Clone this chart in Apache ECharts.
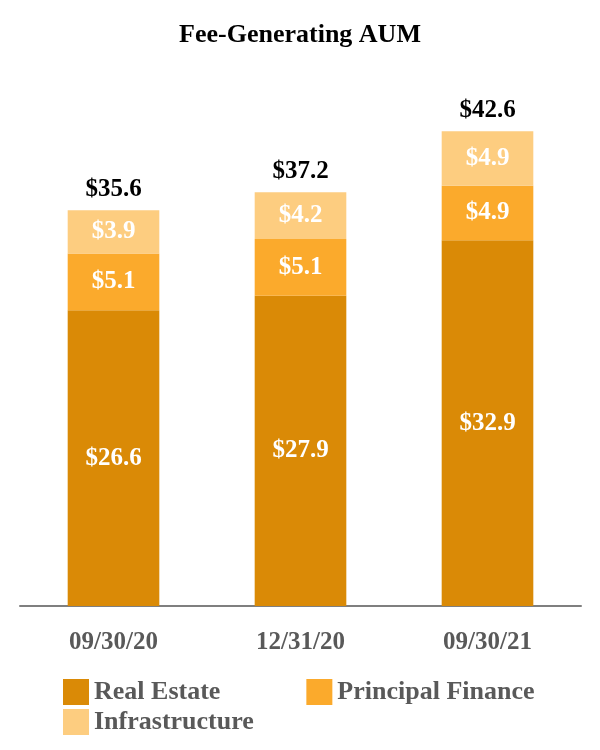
<!DOCTYPE html>
<html>
<head>
<meta charset="utf-8">
<script src="https://cdn.jsdelivr.net/npm/echarts@6/dist/echarts.min.js"></script>
<style>
  html, body { margin: 0; padding: 0; background: #fff; }
  #chart { width: 600px; height: 750px; }
</style>
</head>
<body>
<div id="chart"></div>
<script>
// data
var categories = ['09/30/20', '12/31/20', '09/30/21'];
var realEstate = [26.6, 27.9, 32.9];
var principalFinance = [5.1, 5.1, 4.9];
var infrastructure = [3.9, 4.2, 4.9];
var totals = [35.6, 37.2, 42.6];

var serif = '"Liberation Serif", "Times New Roman", serif';

(function() {
  var myChart = echarts.init(document.getElementById('chart'));

  var innerLabel = {
    show: true,
    position: 'inside',
    color: '#fff',
    fontFamily: serif,
    fontWeight: 'bold',
    fontSize: 25,
    formatter: function(p) { return '$' + p.value.toFixed(1); }
  };

  var legendText = { fontFamily: serif, fontWeight: 'bold', fontSize: 26, color: '#595959' };

  var option = {
    animation: false,
    title: {
      text: 'Fee-Generating AUM',
      left: 'center',
      top: 17,
      textStyle: { fontFamily: serif, fontWeight: 'bold', fontSize: 26, color: '#000' }
    },
    legend: [
      {
        data: ['Real Estate', 'Principal Finance'],
        left: 58,
        top: 674,
        itemWidth: 26,
        itemHeight: 26,
        itemGap: 86,
        icon: 'rect',
        textStyle: legendText
      },
      {
        data: ['Infrastructure'],
        left: 58,
        top: 704,
        itemWidth: 26,
        itemHeight: 26,
        icon: 'rect',
        textStyle: legendText
      }
    ],
    grid: { left: 20, right: 19, top: 50, bottom: 144 },
    xAxis: {
      type: 'category',
      data: categories,
      axisTick: { show: false },
      axisLine: { lineStyle: { color: '#7f7f7f', width: 2 } },
      axisLabel: {
        margin: 24,
        color: '#595959',
        fontFamily: serif,
        fontWeight: 'bold',
        fontSize: 25
      }
    },
    yAxis: { type: 'value', min: 0, max: 50, show: false },
    series: [
      {
        name: 'Real Estate', type: 'bar', stack: 'aum', barWidth: '49%',
        data: realEstate, itemStyle: { color: '#DA8A06' }, label: innerLabel
      },
      {
        name: 'Principal Finance', type: 'bar', stack: 'aum',
        data: principalFinance, itemStyle: { color: '#FBAA2C' }, label: innerLabel
      },
      {
        name: 'Infrastructure', type: 'bar', stack: 'aum',
        data: infrastructure, itemStyle: { color: '#FDCD80' }, label: innerLabel
      },
      {
        // invisible segment carrying the total label
        name: 'Total', type: 'bar', stack: 'aum',
        data: totals.map(function() { return 0; }),
        itemStyle: { color: 'transparent' },
        label: {
          show: true,
          position: 'top',
          distance: 8,
          color: '#000',
          fontFamily: serif,
          fontWeight: 'bold',
          fontSize: 25,
          formatter: function(p) { return '$' + totals[p.dataIndex].toFixed(1); }
        }
      }
    ]
  };
  myChart.setOption(option);
})();
</script>
</body>
</html>
